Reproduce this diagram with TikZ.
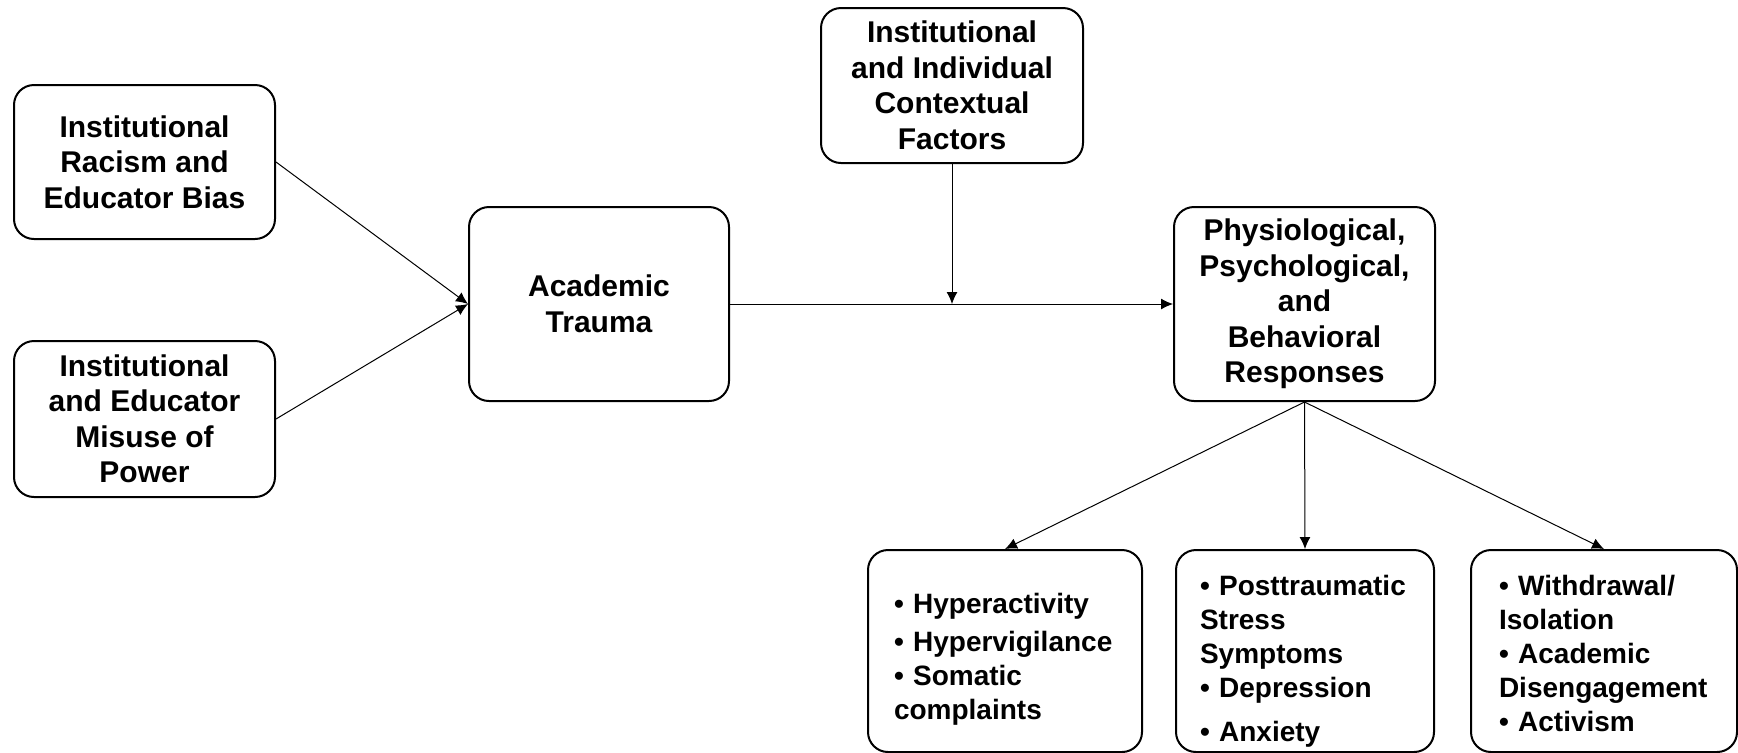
\documentclass[tikz,border=0pt]{standalone}
\usepackage{fontspec}
\setmainfont{Liberation Sans}
\usetikzlibrary{arrows.meta}
\begin{document}
\begin{tikzpicture}[x=0.5pt, y=-0.5pt,
  box/.style={draw, line width=1pt, rounded corners=10pt, align=center, inner sep=0pt, font=\bfseries\fontsize{15}{17.75}\selectfont},
  listbox/.style={draw, line width=1pt, rounded corners=10pt, align=left, inner ysep=0pt, minimum height=101pt, font=\bfseries\fontsize{14}{17}\selectfont},
  arr/.style={-{Latex[length=6pt,width=5.5pt]}, line width=0.5pt}]
\useasboundingbox (0,0) rectangle (1738,752);
\node (racism) at (144.5,162) [box, minimum width=130.5pt, minimum height=77pt] {Institutional\\Racism and\\Educator Bias};
\node (power) at (144.5,419) [box, minimum width=130.5pt, minimum height=78pt] {Institutional\\and Educator\\Misuse of\\Power};
\node (trauma) at (599,304) [box, minimum width=130pt, minimum height=97pt] {Academic\\Trauma};
\node (context) at (952,85.5) [box, minimum width=131pt, minimum height=77.5pt] {Institutional\\and Individual\\Contextual\\Factors};
\node (responses) at (1304.5,304) [box, minimum width=130.5pt, minimum height=97pt] {Physiological,\\Psychological,\\and\\Behavioral\\Responses};
\node (physio) at (1005,651) [listbox, text width=111pt, inner xsep=13pt] {\rule{0pt}{18.3pt}• Hyperactivity\\[2pt]• Hypervigilance\\• Somatic\\complaints};
\node (psycho) at (1305,651) [listbox, text width=105pt, inner xsep=12pt] {\rule{0pt}{20.3pt}• Posttraumatic\\Stress\\Symptoms\\• Depression\\[5pt]• Anxiety};
\node (behav) at (1604,651) [listbox, text width=105pt, inner xsep=14pt] {\rule{0pt}{12.3pt}• Withdrawal/\\Isolation\\• Academic\\Disengagement\\• Activism};
\coordinate (join) at (context.south |- trauma.east);

\draw[arr] (racism.east) to (trauma.west);
\draw[arr] (power.east) to (trauma.west);
\draw[arr] (trauma.east) to (responses.west);
\draw[arr] (context.south) to (join);
\draw[arr] (responses.south) to (physio.north);
\draw[arr] (responses.south) to (psycho.north);
\draw[arr] (responses.south) to (behav.north);
\end{tikzpicture}
\end{document}
